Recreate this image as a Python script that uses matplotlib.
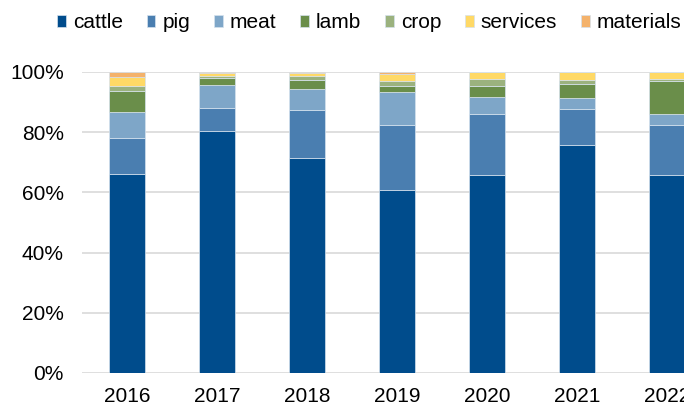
import matplotlib.pyplot as plt
import numpy as np

plt.rcParams['font.family'] = ['Liberation Sans', 'DejaVu Sans']

years = ['2016', '2017', '2018', '2019', '2020', '2021', '2022']

# shares in percent, bottom to top of each bar
cattle = [66.2, 80.4, 71.4, 60.8, 65.7, 75.7, 65.8]
pig = [12.0, 7.5, 16.0, 21.6, 20.3, 11.9, 16.6]
meat = [8.4, 7.8, 6.9, 11.1, 5.8, 3.8, 3.5]
lamb = [7.2, 2.2, 3.2, 1.8, 3.7, 4.6, 11.1]
crop = [1.5, 0.7, 1.2, 1.7, 2.2, 1.5, 0.7]
services = [3.1, 1.0, 1.0, 2.5, 2.2, 2.5, 2.2]
materials = [1.6, 0.4, 0.3, 0.5, 0.1, 0.0, 0.1]

series = [
    ('cattle', cattle, '#004C8C'),
    ('pig', pig, '#4A7EB0'),
    ('meat', meat, '#7EA6C8'),
    ('lamb', lamb, '#6A8E4A'),
    ('crop', crop, '#9BB27E'),
    ('services', services, '#FFD966'),
    ('materials', materials, '#F4B26B'),
]

fig = plt.figure(figsize=(6.84, 4.05), dpi=100)
ax = fig.add_axes([82 / 684, 32 / 405, 630 / 684, 301 / 405])

x = np.arange(len(years))
bottom = np.zeros(len(years))
for name, vals, color in series:
    vals = np.array(vals) / 100
    ax.bar(x, vals, width=0.4, bottom=bottom, color=color, label=name,
           edgecolor='#D6E2EE', linewidth=0.5, zorder=3)
    bottom += vals

ax.set_xlim(-0.5, len(years) - 0.5)
ax.set_ylim(0, 1)
ax.set_yticks(np.arange(0, 1.01, 0.2))
ax.set_yticklabels([f'{int(round(v * 100))}%' for v in np.arange(0, 1.01, 0.2)])
ax.set_xticks(x)
ax.set_xticklabels(years)
ax.tick_params(axis='both', length=0, labelsize=15, colors='black')
ax.tick_params(axis='y', pad=13)
ax.tick_params(axis='x', pad=10)
ax.yaxis.grid(True, color='#D9D9D9', linewidth=1.2, zorder=0)
ax.set_axisbelow(True)
for s in ax.spines.values():
    s.set_visible(False)

ax.legend(loc='upper left', bbox_to_anchor=(-33 / 630, 1 + 67 / 301), ncol=7,
          frameon=False, fontsize=15, handlelength=0.4, handleheight=0.45,
          handletextpad=0.35, columnspacing=1.15, borderaxespad=0)

fig.savefig('out.png', dpi=100)
